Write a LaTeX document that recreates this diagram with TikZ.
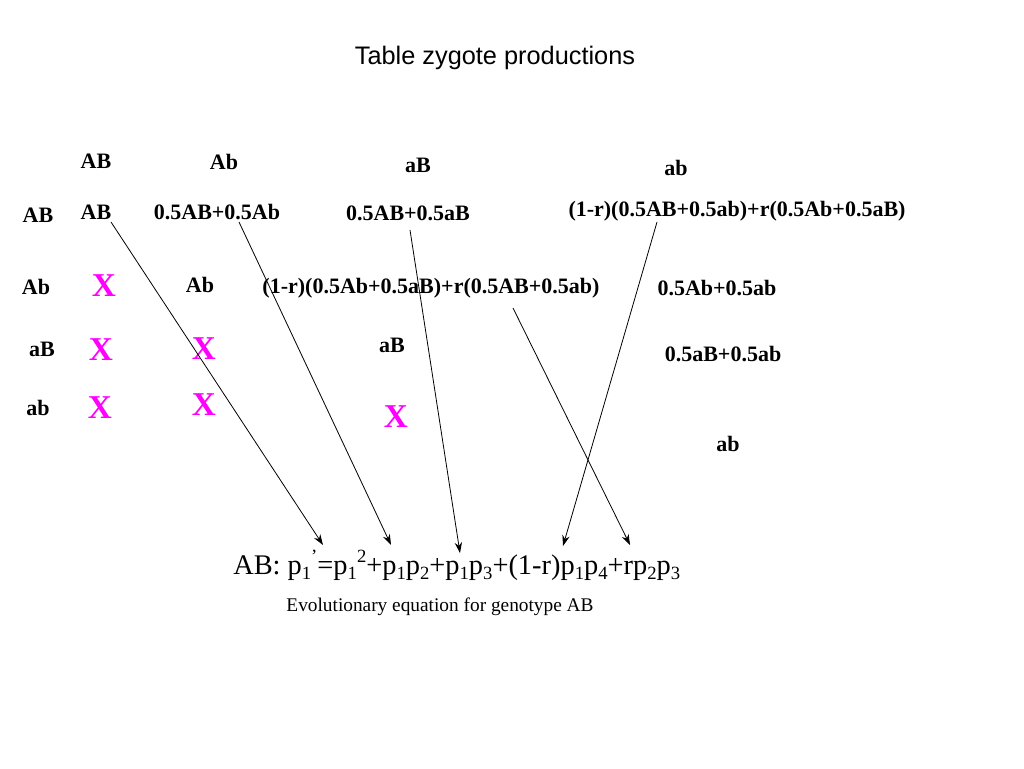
\documentclass[tikz,border=0pt]{standalone}
\usepackage{fontspec}
\setmainfont{Liberation Serif}
\newfontfamily\titlefont{Liberation Sans}
\usetikzlibrary{arrows.meta}
\definecolor{xmag}{RGB}{255,0,255}
\newcommand\lsub[1]{\raisebox{-0.2em}{\fontsize{14}{14}\selectfont #1}}
\newcommand\lsup[1]{\raisebox{0.42em}{\fontsize{14}{14}\selectfont #1}}
\begin{document}
\begin{tikzpicture}[x=0.75pt,y=-0.75pt,
  cell/.style={inner sep=0pt,font=\fontsize{16.5}{18}\selectfont\bfseries},
  cross/.style={inner sep=0pt,text=xmag,font=\fontsize{25}{28}\selectfont\bfseries},
  conn/.style={-{Stealth[length=8pt,width=5.5pt]},line width=0.6pt}]
\useasboundingbox (0,0) rectangle (1024,768);
\node[inner sep=0pt,font=\titlefont\fontsize{19}{22}\selectfont] (title) at (495,58) {Table zygote productions};
% column headers
\node[cell] (hAB) at (96,161) {AB};
\node[cell] (hAb) at (224,162) {Ab};
\node[cell] (haB) at (418,165) {aB};
\node[cell] (hab) at (676,168) {ab};
% row headers
\node[cell] (rAB) at (38,215) {AB};
\node[cell] (rAb) at (36,287) {Ab};
\node[cell] (raB) at (42,349) {aB};
\node[cell] (rab) at (38,408) {ab};
% row AB
\node[cell] (c11) at (96,212) {AB};
\node[cell] (c12) at (217,212) {0.5AB+0.5Ab};
\node[cell] (c13) at (408,213) {0.5AB+0.5aB};
\node[cell] (c14) at (737,211) {(1-r)(0.5AB+0.5ab)+r(0.5Ab+0.5aB)};
% row Ab
\node[cross] (x21) at (104,286) {X};
\node[cell] (c22) at (200,285) {Ab};
\node[cell] (c23) at (431,288) {(1-r)(0.5Ab+0.5aB)+r(0.5AB+0.5ab)};
\node[cell] (c24) at (717,288) {0.5Ab+0.5ab};
% row aB
\node[cross] (x31) at (101,350) {X};
\node[cross] (x32) at (204,349) {X};
\node[cell] (c33) at (392,345) {aB};
\node[cell] (c34) at (723,354) {0.5aB+0.5ab};
% row ab
\node[cross] (x41) at (100,408) {X};
\node[cross] (x42) at (204,405) {X};
\node[cross] (x43) at (396,417) {X};
\node[cell] (c44) at (728,444) {ab};
% equation
\node[inner sep=0pt,anchor=base west,font=\fontsize{21.3}{24}\selectfont] (eq) at (233,574)
 {AB: p\lsub{1}\lsup{’}=p\lsub{1}\lsup{2}+p\lsub{1}p\lsub{2}+p\lsub{1}p\lsub{3}+(1-r)p\lsub{1}p\lsub{4}+rp\lsub{2}p\lsub{3}};
\node[inner sep=0pt,font=\fontsize{14.5}{17}\selectfont] (cap) at (440,607) {Evolutionary equation for genotype AB};
% arrow endpoints
\coordinate (s1) at (111,222);
\coordinate (s2) at (239,222);
\coordinate (s3) at (410,230);
\coordinate (s4) at (657,222);
\coordinate (s5) at (513,308);
\coordinate (e1) at (323,545);
\coordinate (e2) at (391,545);
\coordinate (e3) at (460,553);
\coordinate (e4) at (563,546);
\coordinate (e5) at (630,545);
\draw[conn] (s1) -- (e1);
\draw[conn] (s2) -- (e2);
\draw[conn] (s3) -- (e3);
\draw[conn] (s4) -- (e4);
\draw[conn] (s5) -- (e5);
\end{tikzpicture}
\end{document}
